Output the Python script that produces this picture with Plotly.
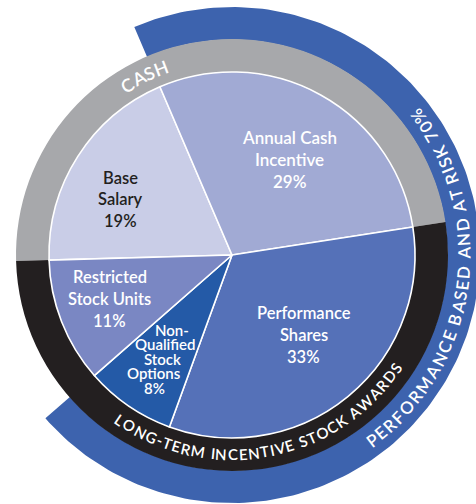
import math
import plotly.graph_objects as go

# ---------------- data ----------------
components = ["Base Salary", "Annual Cash Incentive", "Performance Shares",
              "Non-Qualified Stock Options", "Restricted Stock Units"]
shares = [19, 29, 33, 8, 11]
label_lines = [["Base", "Salary"], ["Annual Cash", "Incentive"], ["Performance", "Shares"],
               ["Non-", "Qualified", "Stock", "Options"], ["Restricted", "Stock Units"]]
groups = ["CASH", "LONG-TERM INCENTIVE STOCK AWARDS"]
group_shares = [shares[0] + shares[1], shares[2] + shares[3] + shares[4]]
at_risk_label = "PERFORMANCE BASED AND AT RISK"
at_risk_share = shares[1] + shares[2] + shares[3]

# ---------------- styles / layout constants ----------------
W, H = 476, 504
CX, CY = 232, 255
R_PIE, R_RING, R_BLUE = 183, 216, 248
ANNUAL_START = -23.2            # degrees clockwise from 12 o'clock
FONT = "Lato"
WEIGHT = 600
slice_colors = ["#c9cde7", "#a1aad4", "#5571b8", "#245aa7", "#7a87c3"]
label_colors = ["#231f20", "white", "white", "white", "white"]
group_colors = ["#a7a8ab", "#231f20"]
blue = "#3d63ae"
# label block placement (radius px, angle offset from slice middle, font size, line gap)
label_r = [125, 112, 107, 125, 130]
label_dth = [-6.2, 2.1, -2.6, -0.6, 1.4]
label_size = [16.5, 17, 16.5, 15, 16.5]
label_gap = [21.5, 22, 22, 14.5, 22]
nq_dx = [10, 3, 0, -8, -8]

WIDTHS = {'A': .68, 'B': .64, 'C': .66, 'D': .74, 'E': .56, 'F': .54, 'G': .72, 'H': .75,
          'I': .29, 'K': .66, 'L': .50, 'M': .90, 'N': .75, 'O': .80, 'P': .60, 'R': .63,
          'S': .52, 'T': .58, 'V': .68, 'W': 1.0, '-': .36, '7': .58, '0': .58, '%': .78,
          ' ': .26}


def pol(r, th):
    t = math.radians(th)
    return CX + r * math.sin(t), CY - r * math.cos(t)


def dom(r):
    return dict(x=[(CX - r) / W, (CX + r) / W], y=[1 - (CY + r) / H, 1 - (CY - r) / H])


fig = go.Figure()

# outer blue "at risk" arc, computed from the share
th0 = ANNUAL_START
th1 = ANNUAL_START + at_risk_share / 100 * 360
n = 200
xs, ys = [], []
for i in range(n + 1):
    x, y = pol(R_BLUE, th0 + (th1 - th0) * i / n)
    xs.append(x); ys.append(y)
for i in range(n, -1, -1):
    x, y = pol(R_RING - 0.5, th0 + (th1 - th0) * i / n)
    xs.append(x); ys.append(y)
fig.add_trace(go.Scatter(x=xs, y=ys, fill="toself", fillcolor=blue, mode="lines",
                         line=dict(width=0, color=blue), hoverinfo="skip", showlegend=False))

rotation = ANNUAL_START - shares[0] / 100 * 360

# group ring
fig.add_trace(go.Pie(labels=groups, values=group_shares, sort=False, direction="clockwise",
                     rotation=rotation, hole=R_PIE / R_RING, domain=dom(R_RING),
                     marker=dict(colors=group_colors, line=dict(width=0)),
                     textinfo="none", hoverinfo="label+percent", showlegend=False))
# inner pie
fig.add_trace(go.Pie(labels=components, values=shares, sort=False, direction="clockwise",
                     rotation=rotation, domain=dom(R_PIE),
                     marker=dict(colors=slice_colors, line=dict(width=1.6, color="white")),
                     textinfo="none", hoverinfo="label+percent", showlegend=False))

annotations = []

# slice labels
start = rotation
for i, (lines, v) in enumerate(zip(label_lines, shares)):
    mid = start + v / 100 * 360 / 2
    start += v / 100 * 360
    bx, by = pol(label_r[i], mid + label_dth[i])
    all_lines = lines + [f"{v}%"]
    k = len(all_lines)
    for j, ln in enumerate(all_lines):
        dx = nq_dx[j] if i == 3 else 0
        annotations.append(dict(
            x=bx + dx, y=by + (j - (k - 1) / 2) * label_gap[i], xref="x", yref="y",
            text=ln, showarrow=False, xanchor="center", yanchor="middle",
            font=dict(family=FONT, size=label_size[i], color=label_colors[i], weight=WEIGHT)))


def text_arc(text, th_first, th_last, r, size, outward):
    ws = [WIDTHS.get(c, .6) for c in text]
    cum, s = [], 0
    for w in ws:
        cum.append(s + w / 2)
        s += w
    c0, c1 = cum[0], cum[-1]
    for ch, cp in zip(text, cum):
        if ch == " ":
            continue
        t = th_first + (th_last - th_first) * (cp - c0) / (c1 - c0)
        x, y = pol(r, t)
        annotations.append(dict(
            x=x, y=y, xref="x", yref="y", text=ch, showarrow=False,
            textangle=t if outward else t - 180, xanchor="center", yanchor="middle",
            font=dict(family=FONT, size=size, color="white", weight=WEIGHT)))


text_arc(groups[0], -31.6, -20.9, 200, 18, True)
text_arc(groups[1], 214.2, 124.6, 199, 15, False)
text_arc(f"{at_risk_label} {at_risk_share}%", 142.9, 53.3, 232, 17, False)

fig.update_layout(
    width=W, height=H, margin=dict(l=0, r=0, t=0, b=0),
    paper_bgcolor="white", plot_bgcolor="white",
    xaxis=dict(range=[0, W], visible=False, fixedrange=True),
    yaxis=dict(range=[H, 0], visible=False, fixedrange=True),
    annotations=annotations,
)

fig.write_html("out.html")
